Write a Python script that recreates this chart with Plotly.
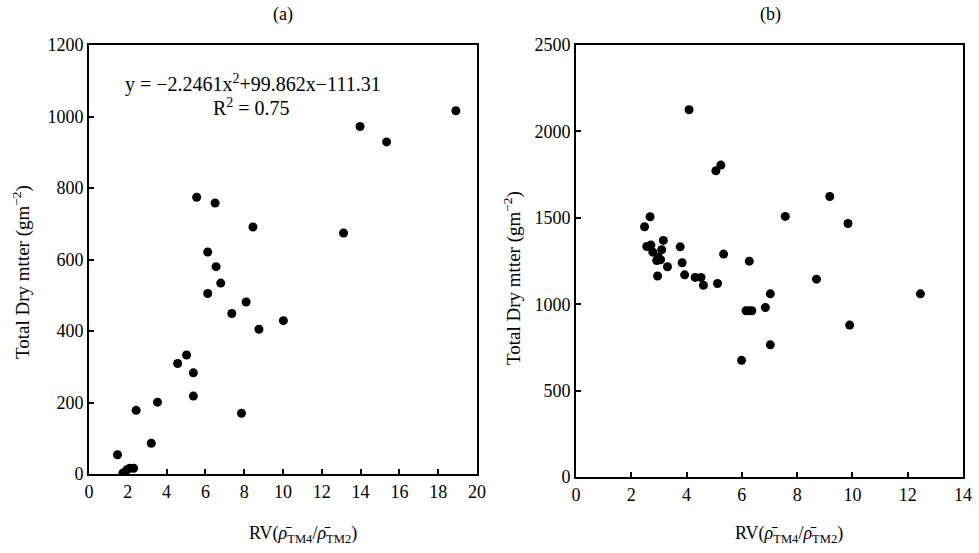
import plotly.graph_objects as go

W, H = 979, 553

# Panel (a) data
a_x = [18.91, 13.97, 15.34, 5.55, 6.50, 8.45, 13.12, 6.12, 6.55, 6.79, 6.12, 8.10, 7.36,
       10.02, 8.76, 5.03, 4.57, 5.38, 5.38, 3.53, 2.43, 7.86, 3.21, 1.47, 1.75, 1.95, 2.10, 2.30, 1.85]
a_y = [1016, 972, 929, 774, 758, 691, 674, 621, 580, 534, 505, 481, 449,
       429, 405, 333, 309, 283, 218, 201, 178, 170, 86, 54, 3, 12, 16, 16, 0]

# Panel (b) data
b_x = [4.09, 5.06, 5.24, 9.18, 7.57, 9.84, 2.68, 2.48, 3.16, 2.56, 2.71, 3.77, 3.10, 2.78,
       5.34, 2.98, 2.92, 3.06, 3.84, 6.27, 3.31, 2.95, 3.93, 4.31, 4.52, 4.61, 5.12, 8.70,
       7.03, 12.46, 6.85, 6.15, 6.25, 6.36, 9.90, 7.03, 5.99]
b_y = [2125, 1772, 1805, 1623, 1508, 1467, 1506, 1448, 1369, 1334, 1342, 1332, 1315, 1301,
       1290, 1272, 1253, 1257, 1240, 1249, 1217, 1163, 1170, 1155, 1155, 1109, 1120, 1145,
       1060, 1060, 981, 962, 962, 962, 879, 765, 675]

a_xticks = [0, 2, 4, 6, 8, 10, 12, 14, 16, 18, 20]
a_yticks = [0, 200, 400, 600, 800, 1000, 1200]
b_xticks = [0, 2, 4, 6, 8, 10, 12, 14]
b_yticks = [0, 500, 1000, 1500, 2000, 2500]

FONT = "Liberation Serif"

def px(x):
    return x / W

def py(y):
    return 1 - y / H

fig = go.Figure()
fig.add_trace(go.Scatter(x=a_x, y=a_y, mode="markers", xaxis="x", yaxis="y",
                         marker=dict(color="black", size=9), showlegend=False))
fig.add_trace(go.Scatter(x=b_x, y=b_y, mode="markers", xaxis="x2", yaxis="y2",
                         marker=dict(color="black", size=9), showlegend=False))

axis_common = dict(showline=True, linecolor="black", linewidth=2, mirror=True,
                   ticks="inside", ticklen=5, tickwidth=1.5, tickcolor="black",
                   showgrid=False, zeroline=False, automargin=False,
                   tickfont=dict(family=FONT, size=18, color="black"))

NB = "\u00a0"
fig.update_layout(
    template="none",
    width=W, height=H,
    margin=dict(l=0, r=0, t=0, b=0),
    paper_bgcolor="white", plot_bgcolor="white",
    xaxis=dict(domain=[px(89), px(477)], range=[0, 20], tickvals=a_xticks,
               anchor="y", **axis_common),
    yaxis=dict(domain=[py(474), py(45)], range=[0, 1200], tickvals=a_yticks,
               anchor="x", ticksuffix=NB, **axis_common),
    xaxis2=dict(domain=[px(576), px(963)], range=[0, 14], tickvals=b_xticks,
                anchor="y2", **axis_common),
    yaxis2=dict(domain=[py(477), py(45)], range=[0, 2500], tickvals=b_yticks,
                anchor="x2", ticksuffix=NB, **axis_common),
)

ann_font = dict(family=FONT, size=18, color="black")
title_font = dict(family=FONT, size=19, color="black")
xlabel = "RV(<i>ρ̄</i><sub>TM4</sub>/<i>ρ̄</i><sub>TM2</sub>)"
ylabel = "Total Dry mtter (gm<sup>−2</sup>)"

annotations = [
    dict(text="(a)", x=px(283), y=py(15), font=ann_font),
    dict(text="(b)", x=px(770), y=py(15), font=ann_font),
    dict(text=xlabel, x=px(303), y=py(534), font=ann_font),
    dict(text=xlabel, x=px(789), y=py(534), font=ann_font),
    dict(text=ylabel, x=px(22), y=py(272), font=title_font, textangle=-90),
    dict(text=ylabel, x=px(512), y=py(278), font=title_font, textangle=-90),
    dict(text="y = −2.2461x<sup>2</sup>+99.862x−111.31", x=px(253), y=py(83),
         font=dict(family=FONT, size=20, color="black")),
    dict(text="R<sup>2</sup> = 0.75", x=px(251), y=py(107),
         font=dict(family=FONT, size=20, color="black")),
]
for a in annotations:
    a.update(xref="paper", yref="paper", showarrow=False, xanchor="center", yanchor="middle")
fig.update_layout(annotations=annotations)

fig.write_html("out.html", config={"displayModeBar": False},
               post_script="document.body.style.margin='0';document.body.style.padding='0';")
